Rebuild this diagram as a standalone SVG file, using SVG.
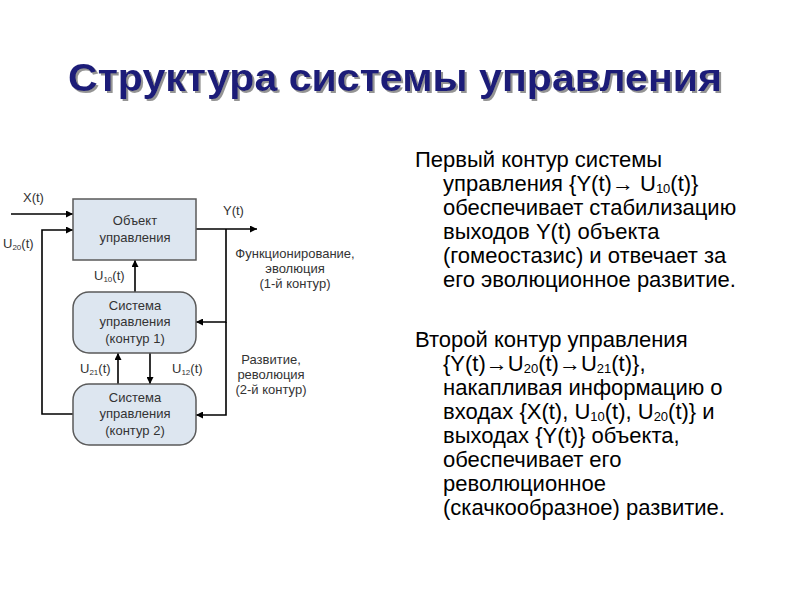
<svg xmlns="http://www.w3.org/2000/svg" width="800" height="600" viewBox="0 0 800 600">
<defs>
<marker id="ah" viewBox="0 0 10 10" refX="10" refY="5" markerWidth="7" markerHeight="7" markerUnits="userSpaceOnUse" orient="auto"><path d="M0,0 L10,5 L0,10 z" fill="#000"/></marker>
<filter id="sh" x="-5%" y="-20%" width="110%" height="140%"><feDropShadow dx="2" dy="2" stdDeviation="0.6" flood-color="#888" flood-opacity="0.9"/></filter>
</defs>
<style>
.box{fill:#dde6f0;stroke:#5a5a5a;stroke-width:1.5}
.lbl{font-family:"Liberation Sans",Arial,sans-serif;font-size:13px;fill:#333}
.c{text-anchor:middle}
.ln{fill:none;stroke:#000;stroke-width:1.6}
.arr{marker-end:url(#ah)}
.body{font-family:"Liberation Sans",Arial,sans-serif;font-size:22px;fill:#000}
.sub{font-size:13px}
</style>
<rect width="800" height="600" fill="#fff"/>
<text x="68" y="91" textLength="654" lengthAdjust="spacingAndGlyphs" font-family="'Liberation Sans',Arial,sans-serif" font-size="38" font-weight="bold" fill="#1c1c78" filter="url(#sh)">Структура системы управления</text>

<g id="connectors">
<path class="ln arr" d="M11,214 H73"/>
<path class="ln arr" d="M73,414 H42 V230 H73"/>
<path class="ln arr" d="M135,292 V260"/>
<path class="ln arr" d="M196,229 H257"/>
<path class="ln arr" d="M226,229 V322 H196"/>
<path class="ln arr" d="M226,322 V415 H196"/>
<path class="ln arr" d="M118,384 V353"/>
<path class="ln arr" d="M150,353 V384"/>
</g>

<g id="obj">
<rect class="box" x="73" y="199" width="123" height="61"/>
<text class="lbl c" x="135" y="225">Объект</text>
<text class="lbl c" x="135" y="242">управления</text>
</g>
<g id="sys1">
<rect class="box" x="73" y="292" width="123" height="61" rx="16"/>
<text class="lbl c" x="135" y="310">Система</text>
<text class="lbl c" x="135" y="326">управления</text>
<text class="lbl c" x="135" y="343">(контур 1)</text>
</g>
<g id="sys2">
<rect class="box" x="73" y="384" width="123" height="61" rx="16"/>
<text class="lbl c" x="135" y="402">Система</text>
<text class="lbl c" x="135" y="418">управления</text>
<text class="lbl c" x="135" y="435">(контур 2)</text>
</g>

<g id="labels">
<text class="lbl" x="23" y="202">X(t)</text>
<text class="lbl" x="3" y="248">U<tspan font-size="8" dy="2">20</tspan><tspan dy="-2">(t)</tspan></text>
<text class="lbl" x="94" y="280">U<tspan font-size="8" dy="2">10</tspan><tspan dy="-2">(t)</tspan></text>
<text class="lbl" x="80" y="373">U<tspan font-size="8" dy="2">21</tspan><tspan dy="-2">(t)</tspan></text>
<text class="lbl" x="172" y="373">U<tspan font-size="8" dy="2">12</tspan><tspan dy="-2">(t)</tspan></text>
<text class="lbl" x="223" y="215">Y(t)</text>
<text class="lbl c" x="295" y="258">Функционирование,</text>
<text class="lbl c" x="295" y="273">эволюция</text>
<text class="lbl c" x="295" y="288">(1-й контур)</text>
<text class="lbl c" x="271" y="364">Развитие,</text>
<text class="lbl c" x="271" y="379">революция</text>
<text class="lbl c" x="271" y="394">(2-й контур)</text>
</g>

<g id="text1" class="body">
<text x="415" y="167">Первый контур системы</text>
<text x="443" y="191">управления {Y(t)→ U<tspan class="sub" dy="2">10</tspan><tspan dy="-2">(t)}</tspan></text>
<text x="443" y="215">обеспечивает стабилизацию</text>
<text x="443" y="239">выходов Y(t) объекта</text>
<text x="443" y="263">(гомеостазис) и отвечает за</text>
<text x="443" y="287">его эволюционное развитие.</text>
</g>
<g id="text2" class="body">
<text x="415" y="347">Второй контур управления</text>
<text x="443" y="371">{Y(t)→U<tspan class="sub" dy="2">20</tspan><tspan dy="-2">(t)→U</tspan><tspan class="sub" dy="2">21</tspan><tspan dy="-2">(t)},</tspan></text>
<text x="443" y="395">накапливая информацию о</text>
<text x="443" y="419">входах {X(t), U<tspan class="sub" dy="2">10</tspan><tspan dy="-2">(t), U</tspan><tspan class="sub" dy="2">20</tspan><tspan dy="-2">(t)} и</tspan></text>
<text x="443" y="443">выходах {Y(t)} объекта,</text>
<text x="443" y="467">обеспечивает его</text>
<text x="443" y="491">революционное</text>
<text x="443" y="515">(скачкообразное) развитие.</text>
</g>
</svg>
